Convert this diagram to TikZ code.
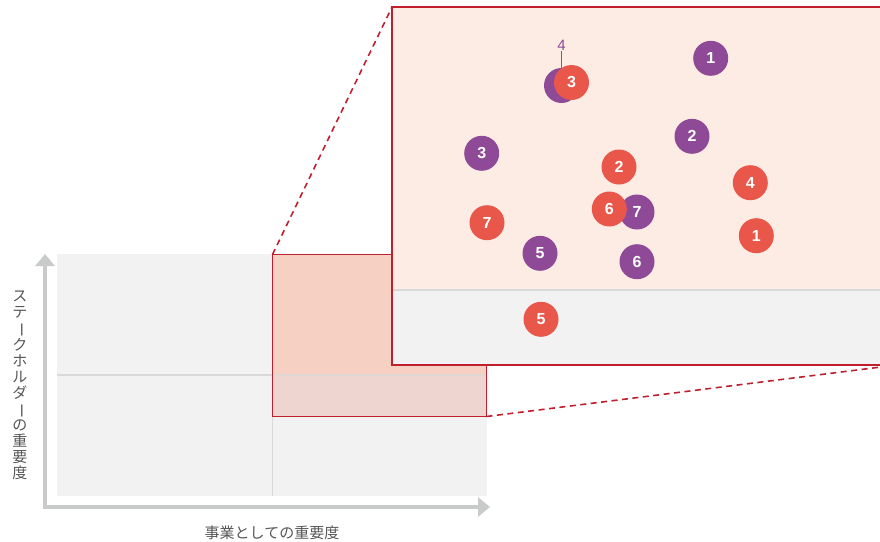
\documentclass[tikz,border=0pt]{standalone}
\usepackage{fontspec}
\setmainfont{Liberation Sans}
\newfontfamily\jp{Noto Sans CJK JP}
\usetikzlibrary{arrows.meta}
\definecolor{pur}{HTML}{8E4A97}
\definecolor{rd}{HTML}{E9574A}
\definecolor{bxred}{HTML}{C0202D}
\definecolor{bggray}{HTML}{F1F2F1}
\definecolor{midln}{HTML}{D9D9D9}
\definecolor{axgray}{HTML}{C9CACA}
\definecolor{zoomfill}{HTML}{FDECE4}
\definecolor{smfillA}{HTML}{F7D0C4}
\definecolor{smfillB}{HTML}{EFD5D0}
\definecolor{lbl}{HTML}{555555}
\newcommand{\vbar}{\rotatebox[origin=c]{-90}{ー}}
\begin{document}
\begin{tikzpicture}[x=1pt,y=-1pt,
  bub/.style={circle, minimum size=35pt, inner sep=0pt, text=white, font=\bfseries\fontsize{16}{16}\selectfont},
  pb/.style={bub, fill=pur},
  rb/.style={bub, fill=rd},
  axis/.style={draw=axgray, line width=4.8pt, line join=miter, {Triangle[length=12pt,width=19pt]}-{Triangle[length=12pt,width=19pt]}},
  zoomline/.style={draw=bxred, line width=1.6pt, dash pattern=on 6pt off 4.5pt},
  boxedge/.style={draw=bxred, line width=1.8pt},
  jplabel/.style={text=lbl, font=\jp\fontsize{15}{16}\selectfont, inner sep=0pt}]
\useasboundingbox (0,0) rectangle (880,541);
\clip (0,0) rectangle (880,541);
% small chart background
\fill[bggray] (57,254) rectangle (487,496);
\draw[midln, line width=1.2pt] (57,375) -- (487,375);
\draw[midln, line width=1.2pt] (272.5,254) -- (272.5,496);
% small highlighted box
\coordinate (sTL) at (272.5,254.5);
\coordinate (sBR) at (486.5,416.5);
\fill[smfillA] (272.5,254.5) rectangle (486.5,375);
\fill[smfillB] (272.5,375) rectangle (486.5,416.5);
\draw[midln, line width=1.2pt, opacity=0.7] (272.5,375) -- (486.5,375);
\draw[boxedge] (sTL) rectangle (sBR);
% axes
\coordinate (xend) at (490,507);
\coordinate (corner) at (45,507);
\coordinate (yend) at (45,254);
\draw[axis] (xend) -- (corner) -- (yend);
% big zoom box
\coordinate (bTL) at (392,7);
\coordinate (bBR) at (897,365);
\fill[zoomfill] (392,7) rectangle (897,290);
\fill[bggray] (392,290) rectangle (897,365);
\draw[midln, line width=1.2pt] (392,290) -- (897,290);
\draw[boxedge] (bTL) rectangle (bBR);
% zoom connectors
\draw[zoomline] (sTL) -- (bTL);
\draw[zoomline] (sBR) -- (bBR);
% purple bubbles
\node[pb] (p1) at (710.7,58.3) {1};
\node[pb] (p2) at (692,136.3) {2};
\node[pb] (p3) at (481.7,153.3) {3};
\node[pb] (p4) at (561.5,85.5) {};
\node[pb] (p5) at (540,253.3) {5};
\node[pb] (p6) at (637,261.7) {6};
\node[pb] (p7) at (637,212) {7};
\node[text=pur, font=\fontsize{15}{15}\selectfont, inner sep=1pt] (l4) at (561.5,45) {4};
\draw[pur, line width=1.2pt] (l4.south) -- (p4.north);
% red bubbles
\node[rb] (r1) at (756.3,235.7) {1};
\node[rb] (r2) at (619,167) {2};
\node[rb] (r3) at (571.5,82.5) {3};
\node[rb] (r4) at (750.3,182.7) {4};
\node[rb] (r5) at (541,319.3) {5};
\node[rb] (r6) at (609.3,209) {6};
\node[rb] (r7) at (487,222.7) {7};
% axis labels
\node[jplabel] (xlab) at (272,533) {事業としての重要度};
\node[jplabel, align=center, font=\jp\fontsize{15}{16}\selectfont] (ylab) at (20,385)
  {ス\\テ\\\vbar\\ク\\ホ\\ル\\ダ\\\vbar\\の\\重\\要\\度};
\end{tikzpicture}
\end{document}
